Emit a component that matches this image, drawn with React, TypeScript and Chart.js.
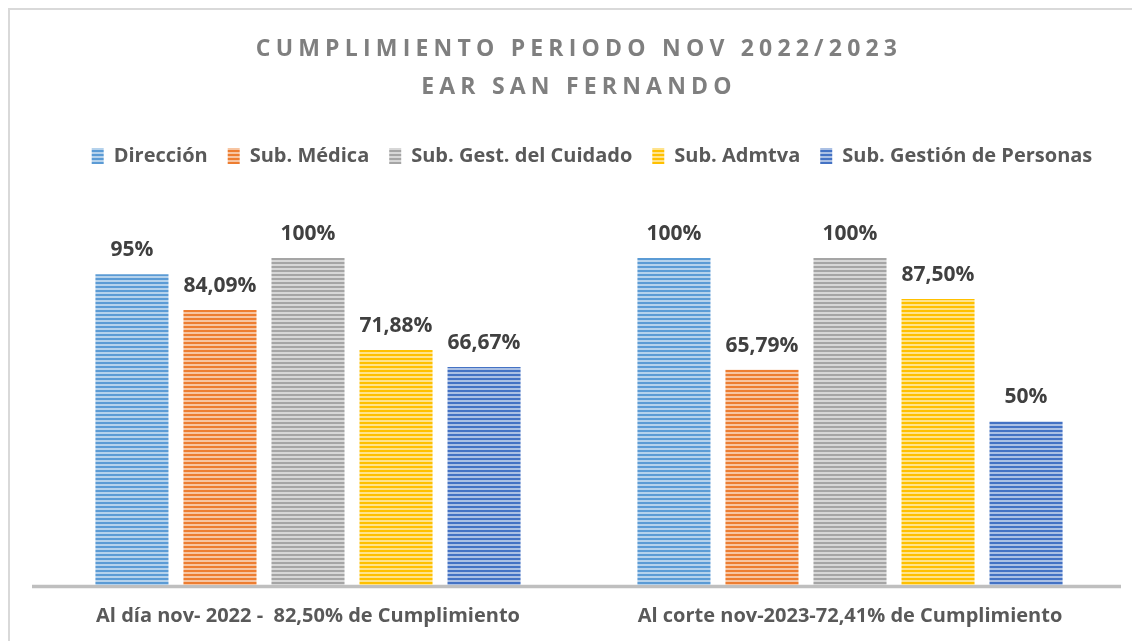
import React, { useEffect, useRef } from "react";
import { Chart, registerables } from "chart.js";

Chart.register(...registerables);

const titleLines = ["CUMPLIMIENTO PERIODO NOV 2022/2023", "EAR SAN FERNANDO"];
const categories = [
  "Al día nov- 2022 -  82,50% de Cumplimiento",
  "Al corte nov-2023-72,41% de Cumplimiento",
];
const seriesNames = [
  "Dirección",
  "Sub. Médica",
  "Sub. Gest. del Cuidado",
  "Sub. Admtva",
  "Sub. Gestión de Personas",
];
const direccion = [95, 100];
const medica = [84.09, 65.79];
const gestCuidado = [100, 100];
const admtva = [71.88, 87.5];
const personas = [66.67, 50];
const direccionLabels = ["95%", "100%"];
const medicaLabels = ["84,09%", "65,79%"];
const gestCuidadoLabels = ["100%", "100%"];
const admtvaLabels = ["71,88%", "87,50%"];
const personasLabels = ["66,67%", "50%"];
const seriesColors = ["#5B9BD5", "#ED7D31", "#A5A5A5", "#FFC000", "#4472C4"];

const FONT = "'Open Sans', sans-serif";

function lighten(hex: string, t: number) {
  const n = parseInt(hex.slice(1), 16);
  const r = (n >> 16) & 255, g = (n >> 8) & 255, b = n & 255;
  const m = (c: number) => Math.round(c + (255 - c) * t);
  return `rgb(${m(r)},${m(g)},${m(b)})`;
}

function makePattern(color: string): CanvasPattern | string {
  const c = document.createElement("canvas");
  c.width = 4;
  c.height = 4;
  const x = c.getContext("2d");
  if (!x) return color;
  x.fillStyle = lighten(color, 0.55);
  x.fillRect(0, 0, 4, 4);
  x.fillStyle = color;
  x.fillRect(0, 0, 4, 2);
  const p = x.createPattern(c, "repeat");
  return p || color;
}

const valueLabelPlugin = {
  id: "valueLabels",
  beforeDatasetsDraw(chart: any) {
    const ctx = chart.ctx;
    const a = chart.chartArea;
    ctx.save();
    ctx.strokeStyle = "#BFBFBF";
    ctx.lineWidth = 3.5;
    ctx.beginPath();
    ctx.moveTo(a.left - 5, a.bottom + 1.5);
    ctx.lineTo(a.right, a.bottom + 1.5);
    ctx.stroke();
    ctx.restore();
  },
  afterDatasetsDraw(chart: any) {
    const ctx = chart.ctx;
    ctx.save();
    ctx.font = `bold 21px ${FONT}`;
    ctx.fillStyle = "#404040";
    ctx.textAlign = "center";
    ctx.textBaseline = "middle";
    chart.data.datasets.forEach((ds: any, i: number) => {
      const meta = chart.getDatasetMeta(i);
      meta.data.forEach((el: any, j: number) => {
        ctx.fillText(ds.valueLabels[j], el.x, el.y - 24);
      });
    });
    ctx.restore();
  },
};

const spacingPlugin = {
  id: "spacing",
  beforeInit(chart: any) {
    const legend = chart.legend;
    if (legend && !legend._patched) {
      const orig = legend.fit;
      legend.fit = function () {
        orig.call(this);
        this.height += 82;
      };
      const origDraw = legend.draw;
      legend.draw = function (...args: any[]) {
        const ctx = chart.ctx;
        ctx.save();
        ctx.translate(13, 0);
        origDraw.apply(this, args);
        ctx.restore();
      };
      legend._patched = true;
    }
  },
  afterLayout(chart: any) {
    const tb = chart.titleBlock;
    if (tb && !tb._patched) {
      const orig = tb.draw;
      tb.draw = function (...args: any[]) {
        const ctx = chart.ctx;
        ctx.save();
        (ctx as any).letterSpacing = "5.2px";
        orig.apply(this, args);
        ctx.restore();
      };
      tb._patched = true;
    }
  },
};

export default function App() {
  const ref = useRef<HTMLCanvasElement | null>(null);
  useEffect(() => {
    document.body.style.overflow = "hidden";
    if (!ref.current) return;
    const values = [direccion, medica, gestCuidado, admtva, personas];
    const labels = [direccionLabels, medicaLabels, gestCuidadoLabels, admtvaLabels, personasLabels];
    const chart = new Chart(ref.current, {
      type: "bar",
      data: {
        labels: categories,
        datasets: seriesNames.map((name, i) => ({
          label: name,
          data: values[i],
          valueLabels: labels[i],
          backgroundColor: makePattern(seriesColors[i]),
          borderWidth: 0,
          categoryPercentage: 0.812,
          barPercentage: 0.83,
        })) as any,
      },
      options: {
        animation: false,
        responsive: false,
        maintainAspectRatio: false,
        layout: { padding: { left: 27, right: 18, top: 0, bottom: -6 } },
        plugins: {
          title: {
            display: true,
            text: titleLines,
            color: "#7F7F7F",
            font: { family: FONT, size: 23, weight: "bold", lineHeight: 38 / 23 },
            padding: { top: 20, bottom: 20 },
          },
          legend: {
            display: true,
            labels: {
              color: "#595959",
              font: { family: FONT, size: 20, weight: "bold" },
              boxWidth: 12,
              boxHeight: 16,
              padding: 20,
            },
          },
          tooltip: { enabled: false },
        },
        scales: {
          x: {
            grid: { display: false, drawTicks: false },
            border: { display: false },
            ticks: {
              color: "#595959",
              font: { family: FONT, size: 20, weight: "bold" },
              padding: 19,
            },
          },
          y: { display: false, min: 0, max: 100 },
        },
      },
      plugins: [valueLabelPlugin, spacingPlugin],
    } as any);
    return () => chart.destroy();
  }, []);
  return (
    <div
      style={{
        width: 1131,
        height: 633,
        boxSizing: "border-box",
        borderTop: "2px solid #D9D9D9",
        borderLeft: "2px solid #D9D9D9",
        background: "#fff",
      }}
    >
      <canvas ref={ref} width={1129} height={631} style={{ display: "block" }} />
    </div>
  );
}
